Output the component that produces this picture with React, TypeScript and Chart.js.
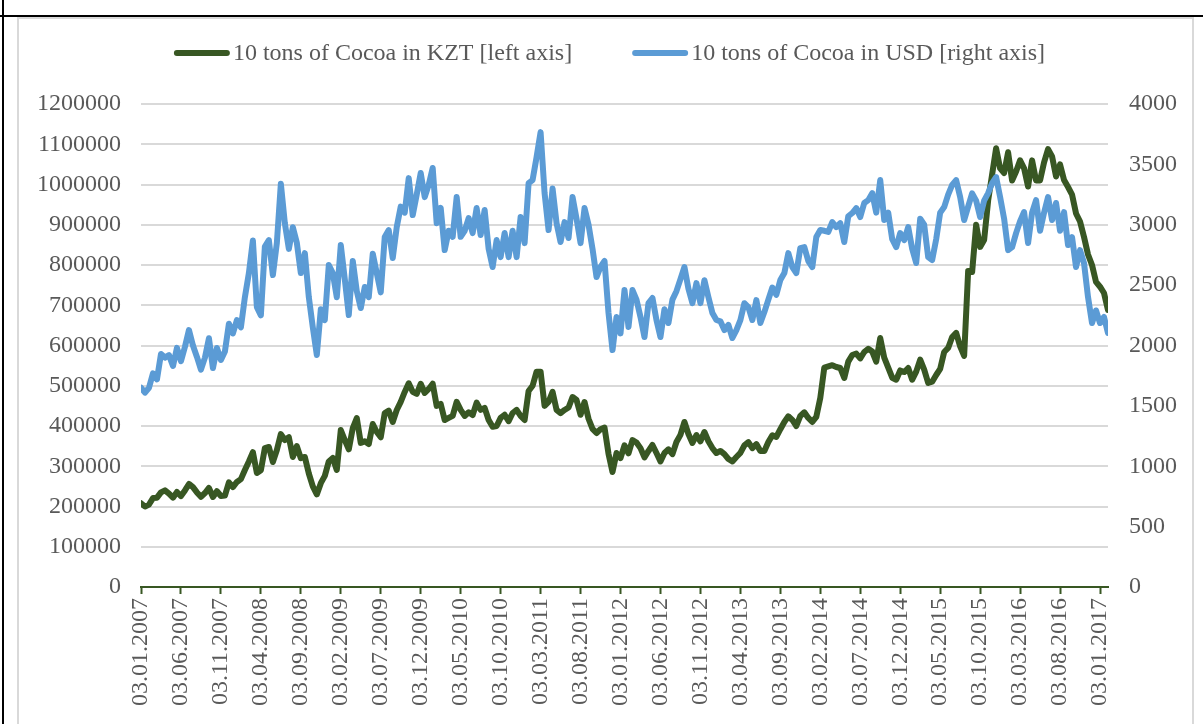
import { useEffect, useRef } from 'react';
import { Chart, registerables } from 'chart.js';

Chart.register(...registerables);

const FONT = "'Times New Roman', 'Liberation Serif', serif";
const TEXT_COLOR = '#595959';
const GRID_COLOR = '#d9d9d9';
const KZT_COLOR = '#385723';
const USD_COLOR = '#5b9bd5';

const SERIES_LABELS = ['10 tons of Cocoa in KZT [left axis]', '10 tons of Cocoa in USD [right axis]'];

// x-axis tick labels (every 5 months)
const TICK_LABELS = [
  '03.01.2007', '03.06.2007', '03.11.2007', '03.04.2008', '03.09.2008', '03.02.2009',
  '03.07.2009', '03.12.2009', '03.05.2010', '03.10.2010', '03.03.2011', '03.08.2011',
  '03.01.2012', '03.06.2012', '03.11.2012', '03.04.2013', '03.09.2013', '03.02.2014',
  '03.07.2014', '03.12.2014', '03.05.2015', '03.10.2015', '03.03.2016', '03.08.2016',
  '03.01.2017',
];

// observations: semi-monthly, starting 03.01.2007 (x = months since start)
const STEP_MONTHS = 0.5;

const KZT = [
  208000, 200000, 205000, 221000, 222000, 235000, 240000, 232000, 222000, 236000,
  226000, 240000, 256000, 248000, 235000, 224000, 233500, 246000, 223600, 238000,
  226000, 227000, 260000, 248400, 260900, 268000, 290700, 312000, 335000, 283200,
  290000, 345000, 347800, 310600, 340400, 380000, 365200, 372000, 323000, 350000,
  320000, 323000, 282000, 250000, 230000, 258000, 276000, 312000, 320500, 290700,
  390000, 365200, 342000, 395000, 419900, 358000, 362000, 355000, 405000, 385000,
  372000, 432300, 438000, 410000, 439800, 460000, 484500, 506000, 485000, 480000,
  505000, 482000, 492000, 505000, 450000, 455000, 414900, 420000, 425000, 460000,
  440000, 425000, 434000, 427300, 458000, 440000, 445000, 415000, 398000, 400000,
  420000, 428000, 412000, 432300, 440000, 425000, 414900, 487000, 500000, 535000,
  535000, 450000, 460000, 485000, 440000, 432000, 439800, 446000, 472000, 464600,
  428000, 459600, 418000, 393000, 382600, 392000, 396000, 331000, 285700, 332900,
  320000, 352000, 332000, 365200, 359000, 345000, 322000, 338000, 352800, 332900,
  312000, 333000, 342000, 330000, 360300, 378000, 410000, 380000, 357800, 377600,
  362000, 385100, 362000, 345300, 332900, 338000, 330000, 318000, 312000, 323000,
  333000, 352000, 360000, 345000, 355000, 338000, 338000, 360000, 377000, 372700,
  392000, 410000, 424000, 415000, 400000, 425000, 434000, 420000, 410000, 422400,
  470000, 545000, 548000, 551000, 546600, 544100, 519300, 560000, 576400, 580000,
  568000, 583900, 592000, 585000, 560000, 618600, 570000, 545000, 520000, 515000,
  538000, 534100, 544000, 515000, 535000, 565000, 540000, 506800, 510000, 526700,
  542000, 583900, 594000, 621100, 631100, 598000, 574000, 785000, 782600, 900000,
  845000, 862100, 960000, 1025000, 1090000, 1040000, 1028600, 1080000, 1010000, 1032000,
  1060000, 1040000, 995000, 1060000, 1010000, 1010000, 1055000, 1088000, 1070000, 1020000,
  1050000, 1011200, 993800, 975000, 928000, 908000, 869600, 826000, 800000, 758000,
  746000, 730400, 688200,
];

const USD = [
  1650, 1610, 1650, 1770, 1720, 1930, 1900, 1920, 1830, 1980,
  1870, 1990, 2128, 2000, 1905, 1800, 1900, 2060, 1813, 1980,
  1880, 1950, 2180, 2100, 2210, 2150, 2400, 2600, 2870, 2318,
  2250, 2820, 2873, 2583, 2850, 3340, 3013, 2800, 2980, 2850,
  2600, 2765, 2400, 2150, 1921, 2300, 2210, 2666, 2600, 2400,
  2832, 2550, 2252, 2700, 2450, 2310, 2484, 2400, 2760, 2600,
  2440, 2898, 2956, 2724, 2980, 3150, 3100, 3386, 3080, 3250,
  3428, 3229, 3330, 3470, 3013, 3140, 2790, 2950, 2900, 3229,
  2900, 2950, 3055, 2931, 3138, 2915, 3122, 2800, 2650, 2873,
  2732, 2931, 2732, 2950, 2732, 3064, 2848, 3345, 3370, 3560,
  3767, 3262, 2956, 3300, 3013, 2857, 3022, 2890, 3229, 3050,
  2848, 3138, 3000, 2800, 2567, 2650, 2700, 2269, 1962, 2236,
  2100, 2459, 2153, 2459, 2380, 2236, 2070, 2351, 2393, 2211,
  2070, 2300, 2186, 2380, 2450, 2550, 2650, 2470, 2351, 2517,
  2351, 2540, 2401, 2269, 2211, 2200, 2128, 2170, 2062, 2128,
  2210, 2350, 2318, 2211, 2376, 2186, 2277, 2380, 2480, 2420,
  2542, 2600, 2765, 2650, 2600, 2807, 2815, 2700, 2650, 2898,
  2956, 2950, 2940, 3022, 2980, 3013, 2857, 3070, 3097, 3138,
  3064, 3180, 3204, 3262, 3100, 3370, 3039, 3100, 2880, 2815,
  2931, 2873, 2980, 2800, 2683, 3050, 3000, 2732, 2708, 2880,
  3100, 3146, 3250, 3330, 3370, 3230, 3039, 3150, 3260, 3200,
  3064, 3200, 3262, 3345, 3395, 3230, 3050, 2790, 2815, 2931,
  3030, 3105, 2848, 3100, 3204, 2950, 3100, 3229, 3039, 3180,
  2950, 3105, 2832, 2898, 2650, 2790, 2683, 2401, 2186, 2290,
  2186, 2236, 2103,
];

const LEFT_MAX = 1200000;
const LEFT_STEP = 100000;
const RIGHT_MAX = 4000;
const RIGHT_STEP = 500;

function monthOffset(label: string): number {
  const [, mm, yyyy] = label.split('.').map(Number);
  return (yyyy - 2007) * 12 + (mm - 1);
}

const legendPlugin = {
  id: 'topLegend',
  afterDraw(chart: any) {
    const ctx = chart.ctx as CanvasRenderingContext2D;
    const ds = chart.data.datasets;
    ctx.save();
    ctx.font = `24px ${FONT}`;
    const lineLen = 50;
    const gap = 6;
    const itemGap = 63;
    const widths = ds.map((d: any) => ctx.measureText(d.label).width);
    const total =
      ds.reduce((s: number, _d: any, i: number) => s + lineLen + gap + widths[i], 0) +
      itemGap * (ds.length - 1);
    let x = 611 - total / 2;
    const y = 53;
    ds.forEach((d: any, i: number) => {
      ctx.strokeStyle = d.borderColor;
      ctx.lineWidth = 6;
      ctx.lineCap = 'round';
      ctx.beginPath();
      ctx.moveTo(x, y);
      ctx.lineTo(x + lineLen, y);
      ctx.stroke();
      ctx.fillStyle = TEXT_COLOR;
      ctx.textBaseline = 'middle';
      ctx.textAlign = 'left';
      ctx.fillText(d.label, x + lineLen + gap, y + 1);
      x += lineLen + gap + widths[i] + itemGap;
    });
    ctx.restore();
  },
};

export default function App() {
  const ref = useRef<HTMLCanvasElement>(null);

  useEffect(() => {
    if (!ref.current) return;
    Chart.defaults.font.family = FONT;
    Chart.defaults.font.size = 24;
    Chart.defaults.color = TEXT_COLOR;
    const tickValues = TICK_LABELS.map(monthOffset);
    const lastX = (KZT.length - 1) * STEP_MONTHS;

    const chart = new Chart(ref.current, {
      type: 'line',
      data: {
        datasets: [
          {
            label: SERIES_LABELS[0],
            data: KZT.map((v, i) => ({ x: i * STEP_MONTHS, y: v })),
            borderColor: KZT_COLOR,
            backgroundColor: KZT_COLOR,
            borderWidth: 6,
            borderJoinStyle: 'round',
            borderCapStyle: 'round',
            pointRadius: 0,
            tension: 0,
            yAxisID: 'y',
            order: 1,
          },
          {
            label: SERIES_LABELS[1],
            data: USD.map((v, i) => ({ x: i * STEP_MONTHS, y: v })),
            borderColor: USD_COLOR,
            backgroundColor: USD_COLOR,
            borderWidth: 6,
            borderJoinStyle: 'round',
            borderCapStyle: 'round',
            pointRadius: 0,
            tension: 0,
            yAxisID: 'y1',
            order: 0,
          },
        ],
      },
      options: {
        responsive: false,
        animation: false,
        devicePixelRatio: 1,
        layout: { padding: { top: 104, left: 0, right: 0, bottom: 0 } },
        plugins: {
          legend: { display: false },
          tooltip: { enabled: false },
        },
        scales: {
          x: {
            type: 'linear',
            min: 0,
            max: lastX,
            afterBuildTicks: (scale: any) => {
              scale.ticks = tickValues.map((v) => ({ value: v }));
            },
            afterFit: (scale: any) => {
              scale.height = 137;
            },
            ticks: {
              autoSkip: false,
              minRotation: 90,
              maxRotation: 90,
              padding: 4,
              color: TEXT_COLOR,
              font: { size: 24, family: FONT },
              callback: (_v: any, index: number) => TICK_LABELS[index],
            },
            grid: {
              drawOnChartArea: false,
              drawTicks: true,
              tickLength: 7,
              tickColor: KZT_COLOR,
              tickWidth: 2,
              color: KZT_COLOR,
            },
            border: { display: true, color: KZT_COLOR, width: 2 },
          },
          y: {
            type: 'linear',
            position: 'left',
            min: 0,
            max: LEFT_MAX,
            afterFit: (scale: any) => {
              scale.width = 141;
            },
            ticks: {
              stepSize: LEFT_STEP,
              padding: 20,
              color: TEXT_COLOR,
              font: { size: 24, family: FONT },
              callback: (v: any) => String(v),
            },
            grid: { color: GRID_COLOR, lineWidth: 2, drawTicks: false },
            border: { display: false },
          },
          y1: {
            type: 'linear',
            position: 'right',
            min: 0,
            max: RIGHT_MAX,
            afterFit: (scale: any) => {
              scale.width = 95;
            },
            ticks: {
              stepSize: RIGHT_STEP,
              padding: 21,
              color: TEXT_COLOR,
              font: { size: 24, family: FONT },
              callback: (v: any) => String(v),
            },
            grid: { display: false, drawTicks: false },
            border: { display: false },
          },
        },
      },
      plugins: [legendPlugin],
    } as any);

    return () => chart.destroy();
  }, []);

  return (
    <div
      style={{
        position: 'absolute',
        left: 0,
        top: 0,
        width: 1203,
        height: 724,
        background: '#ffffff',
        overflow: 'hidden',
      }}
    >
      <canvas
        ref={ref}
        width={1203}
        height={724}
        style={{ position: 'absolute', left: 0, top: 0, width: 1203, height: 724 }}
      />
      <div
        style={{
          position: 'absolute',
          left: 17,
          top: 17,
          width: 1177,
          height: 730,
          boxSizing: 'border-box',
          borderLeft: `2px solid ${GRID_COLOR}`,
          borderRight: `2px solid ${GRID_COLOR}`,
          borderTop: `2px solid ${GRID_COLOR}`,
          pointerEvents: 'none',
        }}
      />
      <div style={{ position: 'absolute', left: 2, top: 0, width: 2, height: 724, background: '#000' }} />
      <div style={{ position: 'absolute', left: 0, top: 15, width: 1203, height: 2, background: '#000' }} />
    </div>
  );
}
